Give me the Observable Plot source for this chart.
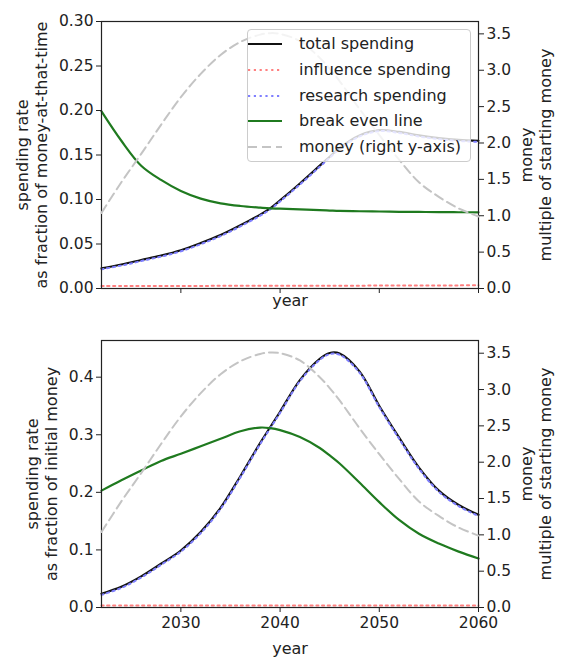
<!DOCTYPE html>
<html>
<head>
<meta charset="utf-8">
<script src="https://cdn.jsdelivr.net/npm/d3@7"></script>
<script src="https://cdn.jsdelivr.net/npm/@observablehq/plot@0.6"></script>
<style>
  body { margin: 0; background: #fff; }
  #fig { position: relative; width: 574px; height: 666px; font-family: "DejaVu Sans", sans-serif; }
  #fig svg { position: absolute; left: 0; }
  .legend { position: absolute; box-sizing: border-box; border: 1px solid #cccccc; border-radius: 4px; background: rgba(255,255,255,0.8); z-index: 10; }
  .legend .row { position: absolute; left: 0; height: 20px; }
  .legend .row svg { position: absolute; left: 5px; top: 5px; }
  .legend .row span { position: absolute; left: 51px; top: 0; font-size: 16px; line-height: 20px; color: #222; white-space: nowrap; }
</style>
</head>
<body>
<div id="fig"></div>
<script>
// ---------- data ----------
const years = [2022, 2024, 2026, 2028, 2030, 2032, 2034, 2036, 2038, 2039, 2040, 2042, 2044, 2045, 2046, 2048, 2050, 2052, 2054, 2056, 2058, 2060];

// money, multiple of starting money (right axis, both panels)
const money = [1.04, 1.46, 1.85, 2.25, 2.63, 2.95, 3.21, 3.39, 3.49, 3.51, 3.50, 3.40, 3.17, 3.02, 2.85, 2.47, 2.11, 1.77, 1.46, 1.26, 1.10, 0.99];

// top panel: spending rate as fraction of money-at-that-time
const topTotal = [0.0227, 0.027, 0.032, 0.037, 0.043, 0.051, 0.060, 0.071, 0.083, 0.090, 0.099, 0.118, 0.138, 0.148, 0.158, 0.172, 0.178, 0.176, 0.172, 0.169, 0.167, 0.166];
const topInfluence = [0.0027, 0.0027, 0.0028, 0.0028, 0.0029, 0.0029, 0.0030, 0.0030, 0.0030, 0.0030, 0.0030, 0.0031, 0.0031, 0.0031, 0.0032, 0.0032, 0.0033, 0.0033, 0.0034, 0.0034, 0.0035, 0.0036];
const topResearch = [0.0215, 0.0258, 0.0308, 0.0358, 0.0418, 0.0498, 0.0588, 0.0698, 0.0818, 0.0888, 0.0978, 0.1168, 0.1368, 0.1468, 0.1568, 0.1708, 0.1768, 0.1748, 0.1708, 0.1678, 0.1658, 0.1648];
const topBreakEven = [0.199, 0.166, 0.138, 0.122, 0.1096, 0.101, 0.0957, 0.0927, 0.0908, 0.0900, 0.0897, 0.0888, 0.0880, 0.0876, 0.0872, 0.0868, 0.0865, 0.0862, 0.0860, 0.0858, 0.0857, 0.0856];

// bottom panel: spending rate as fraction of initial money
const bottomTotal = [0.024, 0.036, 0.054, 0.076, 0.099, 0.131, 0.173, 0.228, 0.286, 0.313, 0.340, 0.395, 0.432, 0.442, 0.441, 0.410, 0.350, 0.295, 0.243, 0.203, 0.178, 0.161];
const bottomInfluence = [0.0035, 0.0035, 0.0035, 0.0035, 0.0035, 0.0035, 0.0035, 0.0035, 0.0035, 0.0035, 0.0035, 0.0035, 0.0035, 0.0035, 0.0035, 0.0035, 0.0035, 0.0035, 0.0035, 0.0035, 0.0035, 0.0035];
const bottomResearch = [0.022, 0.034, 0.052, 0.074, 0.097, 0.129, 0.171, 0.226, 0.284, 0.311, 0.338, 0.393, 0.430, 0.440, 0.439, 0.408, 0.348, 0.293, 0.241, 0.201, 0.176, 0.159];
const bottomBreakEven = [0.203, 0.221, 0.238, 0.2545, 0.267, 0.280, 0.293, 0.306, 0.3125, 0.3115, 0.308, 0.296, 0.277, 0.264, 0.250, 0.217, 0.183, 0.152, 0.128, 0.111, 0.097, 0.085];

// ticks and labels
const xTicks = [2030, 2040, 2050, 2060];
const topLeftTicks = [0, 0.05, 0.10, 0.15, 0.20, 0.25, 0.30];
const bottomLeftTicks = [0, 0.1, 0.2, 0.3, 0.4];
const rightTicks = [0, 0.5, 1.0, 1.5, 2.0, 2.5, 3.0, 3.5];
const legendLabels = ["total spending", "influence spending", "research spending", "break even line", "money (right y-axis)"];
const xLabel = "year";
const topLeftLabel = "spending rate\nas fraction of money-at-that-time";
const bottomLeftLabel = "spending rate\nas fraction of initial money";
const rightLabel = "money\nmultiple of starting money";

// ---------- styles ----------
const FONT = "DejaVu Sans";
const TXT = "#222";
const W = 574;
const styleTotal = {stroke: "#111", strokeWidth: 2.2};
const styleInfluence = {stroke: "#ff8080", strokeWidth: 2, strokeDasharray: "2.2,3.6"};
const styleResearch = {stroke: "#7f7fff", strokeWidth: 2, strokeDasharray: "2.2,3.6"};
const styleBreak = {stroke: "#1f7a1f", strokeWidth: 2.2};
const styleMoney = {stroke: "#c4c4c4", strokeWidth: 2, strokeDasharray: "9,5"};
const legendStyles = [styleTotal, styleInfluence, styleResearch, styleBreak, styleMoney];
const curve = "catmull-rom";

function leftPanel({height, mTop, mBottom, yDomain, yTicks, yFmt, showXLabels, yLabel, yLabelDx, xLabelDy, total, infl, research, brk}) {
  return Plot.plot({
    width: W, height,
    marginLeft: 101, marginRight: 96, marginTop: mTop, marginBottom: mBottom,
    x: {domain: [2022, 2060], label: null},
    y: {domain: yDomain, label: null},
    style: {fontFamily: FONT, fontSize: "15.5px", color: TXT, background: "transparent", overflow: "visible"},
    marks: [
      Plot.axisY({ticks: yTicks, tickFormat: d => d.toFixed(yFmt), tickSize: 5, tickPadding: 3, label: null, stroke: TXT}),
      Plot.axisX({ticks: xTicks, tickFormat: showXLabels ? (d => String(d)) : (() => ""), tickSize: 5, tickPadding: 4, label: null, stroke: TXT}),
      Plot.line(years, {x: years, y: total, curve, ...styleTotal}),
      Plot.line(years, {x: years, y: infl, curve, ...styleInfluence}),
      Plot.line(years, {x: years, y: research, curve, ...styleResearch}),
      Plot.line(years, {x: years, y: brk, curve, ...styleBreak}),
      Plot.frame({stroke: TXT, strokeWidth: 1.2}),
      Plot.text([yLabel], {text: d => d, frameAnchor: "left", textAnchor: "middle", lineAnchor: "middle", dx: yLabelDx, rotate: -90, lineHeight: 1.2, fontSize: 16, fill: TXT}),
      Plot.text([xLabel], {text: d => d, frameAnchor: "bottom", textAnchor: "middle", lineAnchor: "middle", dy: xLabelDy, fontSize: 16, fill: TXT})
    ]
  });
}

function rightPanel({height, mTop, mBottom, yDomain}) {
  return Plot.plot({
    width: W, height,
    marginLeft: 101, marginRight: 96, marginTop: mTop, marginBottom: mBottom,
    x: {domain: [2022, 2060], axis: null, label: null},
    y: {domain: yDomain, label: null},
    style: {fontFamily: FONT, fontSize: "15.5px", color: TXT, background: "transparent", overflow: "visible"},
    marks: [
      Plot.line(years, {x: years, y: money, curve, ...styleMoney}),
      Plot.axisY({anchor: "right", ticks: rightTicks, tickFormat: d => d.toFixed(1), tickSize: 5, tickPadding: 3, label: null, stroke: TXT}),
      Plot.text([rightLabel], {text: d => d, frameAnchor: "right", textAnchor: "middle", lineAnchor: "middle", dx: 57, rotate: -90, lineHeight: 1.2, fontSize: 16, fill: TXT})
    ]
  });
}

const fig = document.getElementById("fig");

const topL = leftPanel({height: 318, mTop: 21, mBottom: 30, yDomain: [0, 0.30], yTicks: topLeftTicks, yFmt: 2, showXLabels: false,
  yLabel: topLeftLabel, yLabelDx: -70, xLabelDy: 12, total: topTotal, infl: topInfluence, research: topResearch, brk: topBreakEven});
const topR = rightPanel({height: 318, mTop: 21, mBottom: 30, yDomain: [0, 3.67]});
const botL = leftPanel({height: 348, mTop: 22, mBottom: 59, yDomain: [0, 0.4637], yTicks: bottomLeftTicks, yFmt: 1, showXLabels: true,
  yLabel: bottomLeftLabel, yLabelDx: -60, xLabelDy: 41, total: bottomTotal, infl: bottomInfluence, research: bottomResearch, brk: bottomBreakEven});
const botR = rightPanel({height: 348, mTop: 22, mBottom: 59, yDomain: [0, 3.675]});

topL.style.top = "0px"; topR.style.top = "0px";
botL.style.top = "318px"; botR.style.top = "318px";
fig.append(topL, topR, botL, botR);

// legend (top panel, upper right)
const legend = d3.select(fig).append("div").attr("class", "legend")
  .style("left", "247px").style("top", "29px").style("width", "224px").style("height", "133px");
const rowTops = [4, 30, 55.5, 81, 106.5];
legendLabels.forEach((lab, i) => {
  const row = legend.append("div").attr("class", "row").style("top", rowTops[i] + "px").style("width", "222px");
  const s = row.append("svg").attr("width", 35).attr("height", 10);
  const st = legendStyles[i];
  s.append("line").attr("x1", 0).attr("x2", 34).attr("y1", 5).attr("y2", 5)
    .attr("stroke", st.stroke).attr("stroke-width", st.strokeWidth)
    .attr("stroke-dasharray", st.strokeDasharray || null);
  row.append("span").text(lab);
});
</script>
</body>
</html>
